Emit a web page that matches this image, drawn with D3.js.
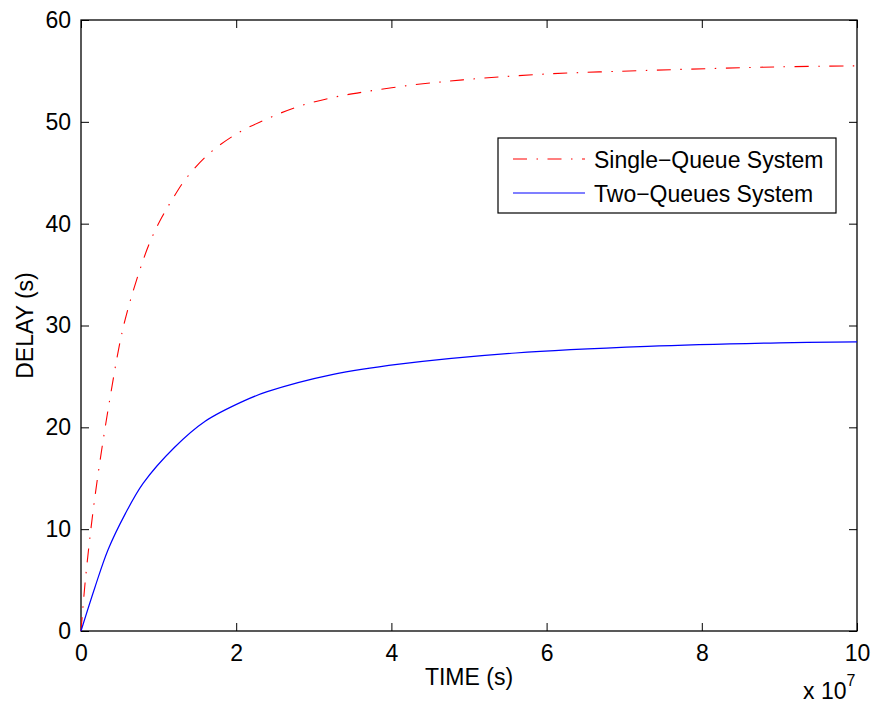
<!DOCTYPE html>
<html>
<head>
<meta charset="utf-8">
<script src="https://cdn.jsdelivr.net/npm/d3@7"></script>
<style>
    body { margin: 0; background: #fff; }
    svg { display: block; }
</style>
</head>
<body>
<svg id="chart"></svg>
<script>
// time in units of 1e7 s, delay in s
const singleTime  = [0, 0.06, 0.18, 0.37, 0.55, 0.76, 0.9, 1.04, 1.17, 1.34, 1.64, 2.0, 2.4, 2.8, 3.25, 3.7, 4.25, 4.75, 5.2, 6.0, 7.3, 8.2, 9.0, 10];
const singleDelay = [0, 5.3, 13.2, 22.7, 30.0, 35.5, 38.4, 40.6, 42.3, 44.3, 46.8, 48.8, 50.3, 51.5, 52.4, 53.0, 53.6, 54.0, 54.3, 54.7, 55.05, 55.25, 55.4, 55.5];

const twoTime  = [0, 0.18, 0.35, 0.57, 0.8, 1.2, 1.6, 2.1, 2.4, 3.25, 4.1, 5.6, 7.3, 9.0, 10];
const twoDelay = [0, 4.3, 8.0, 11.5, 14.5, 18.0, 20.6, 22.6, 23.5, 25.2, 26.2, 27.3, 27.95, 28.3, 28.4];

const xTicks = [0, 2, 4, 6, 8, 10];
const yTicks = [0, 10, 20, 30, 40, 50, 60];

const seriesNames = ['Single\u2212Queue System', 'Two\u2212Queues System'];

const settings = {
    width: 875,
    height: 707,
    margin: { left: 81, top: 20, right: 18, bottom: 76 },
    fontFamily: 'Liberation Sans, Arial, Helvetica, sans-serif',
    fontSize: 23
};

const innerW = settings.width - settings.margin.left - settings.margin.right;
const innerH = settings.height - settings.margin.top - settings.margin.bottom;

const svg = d3.select('#chart')
    .attr('width', settings.width)
    .attr('height', settings.height)
    .style('font-family', settings.fontFamily);

const g = svg.append('g')
    .attr('transform', 'translate(' + settings.margin.left + ',' + settings.margin.top + ')');

const x = d3.scaleLinear().domain([0, 10]).range([0, innerW]);
const y = d3.scaleLinear().domain([0, 60]).range([innerH, 0]);

function styleAxis(sel, showText) {
    sel.select('.domain').remove();
    sel.selectAll('line').attr('stroke', '#000').attr('stroke-width', 1);
    if (!showText) {
        sel.selectAll('text').remove();
        return;
    }
    sel.selectAll('text')
        .attr('fill', '#000')
        .style('font-size', settings.fontSize + 'px')
        .style('font-family', settings.fontFamily);
}

// ticks point inward, mirrored on all four sides
g.append('g')
    .attr('transform', 'translate(0,' + innerH + ')')
    .call(d3.axisBottom(x).tickValues(xTicks).tickSizeInner(-8).tickSizeOuter(0).tickPadding(14))
    .call(s => styleAxis(s, true));

g.append('g')
    .call(d3.axisTop(x).tickValues(xTicks).tickSizeInner(-8).tickSizeOuter(0))
    .call(s => styleAxis(s, false));

g.append('g')
    .call(d3.axisLeft(y).tickValues(yTicks).tickSizeInner(-8).tickSizeOuter(0).tickPadding(10))
    .call(s => styleAxis(s, true));

g.append('g')
    .attr('transform', 'translate(' + innerW + ',0)')
    .call(d3.axisRight(y).tickValues(yTicks).tickSizeInner(-8).tickSizeOuter(0))
    .call(s => styleAxis(s, false));

g.append('rect')
    .attr('width', innerW)
    .attr('height', innerH)
    .attr('fill', 'none')
    .attr('stroke', '#000')
    .attr('stroke-width', 1.3);

const line = d3.line()
    .x(d => x(d[0]))
    .y(d => y(d[1]))
    .curve(d3.curveCatmullRom.alpha(0.5));

g.append('path')
    .datum(singleTime.map((t, i) => [t, singleDelay[i]]))
    .attr('d', line)
    .attr('fill', 'none')
    .attr('stroke', '#ff0000')
    .attr('stroke-width', 1.1)
    .attr('stroke-dasharray', '14,9.5,1.5,9.5');

g.append('path')
    .datum(twoTime.map((t, i) => [t, twoDelay[i]]))
    .attr('d', line)
    .attr('fill', 'none')
    .attr('stroke', '#0000ff')
    .attr('stroke-width', 1.2);

// axis labels
svg.append('text')
    .attr('x', settings.margin.left + innerW / 2)
    .attr('y', 685)
    .attr('text-anchor', 'middle')
    .style('font-size', settings.fontSize + 'px')
    .text('TIME (s)');

svg.append('text')
    .attr('transform', 'translate(33,' + (settings.margin.top + innerH / 2) + ') rotate(-90)')
    .attr('text-anchor', 'middle')
    .style('font-size', settings.fontSize + 'px')
    .text('DELAY (s)');

const expo = svg.append('text')
    .attr('x', 803)
    .attr('y', 699)
    .style('font-size', settings.fontSize + 'px');
expo.append('tspan').text('x 10');
expo.append('tspan')
    .attr('dy', -13)
    .style('font-size', '16px')
    .text('7');

// legend
const legend = svg.append('g').attr('transform', 'translate(498,138)');
legend.append('rect')
    .attr('width', 338)
    .attr('height', 75)
    .attr('fill', '#fff')
    .attr('stroke', '#000')
    .attr('stroke-width', 1.2);

const legendStyles = [
    { color: '#ff0000', dash: '14,9.5,1.5,9.5' },
    { color: '#0000ff', dash: null }
];

seriesNames.forEach(function (name, i) {
    const rowY = 21 + i * 34;
    legend.append('line')
        .attr('x1', 15).attr('x2', 87)
        .attr('y1', rowY).attr('y2', rowY)
        .attr('stroke', legendStyles[i].color)
        .attr('stroke-width', 1.2)
        .attr('stroke-dasharray', legendStyles[i].dash);
    legend.append('text')
        .attr('x', 96)
        .attr('y', rowY + 9)
        .style('font-size', settings.fontSize + 'px')
        .text(name);
});
</script>
</body>
</html>
